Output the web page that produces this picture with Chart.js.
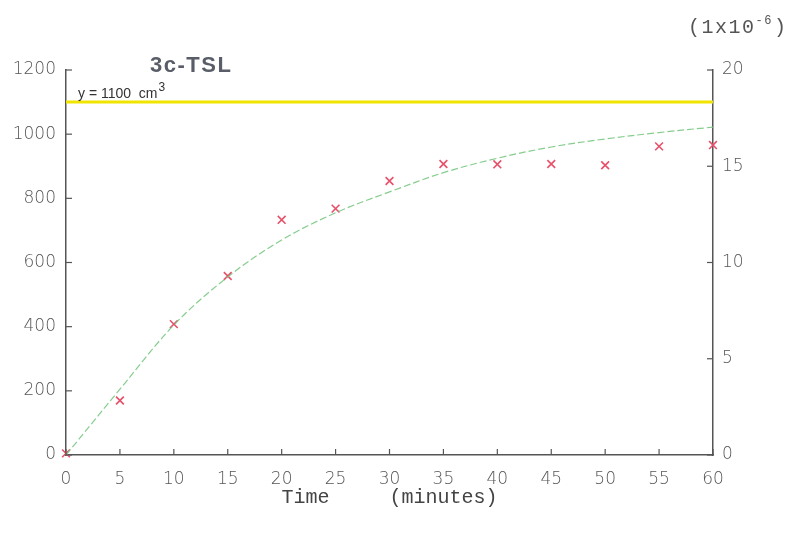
<!DOCTYPE html>
<html><head><meta charset="utf-8">
<script src="https://cdn.jsdelivr.net/npm/chart.js@4"></script>
<style>html,body{margin:0;padding:0;background:#fff}#wrap{width:795px;height:537px}</style>
</head><body><div id="wrap"><canvas id="c" width="795" height="537"></canvas></div>
<script>
// ---- data ----
const timeMinutes    = [0, 5, 10, 15, 20, 25, 30, 35, 40, 45, 50, 55, 60];
const measuredVolume = [5, 170, 408, 558, 733, 768, 854, 907, 906, 907, 903, 962, 966];
const fittedVolume   = [0, 205, 405, 555, 670, 755, 820, 880, 925, 960, 985, 1005, 1022];
const limitVolume    = 1100;
const limitRange     = [0, 60];
const leftTicks      = [0, 200, 400, 600, 800, 1000, 1200];
const rightTicks     = [0, 5, 10, 15, 20];
const xTicks         = [0, 5, 10, 15, 20, 25, 30, 35, 40, 45, 50, 55, 60];
const chartTitle     = '3c-TSL';
const limitLabel     = 'y = 1100  cm';
const xAxisTitle     = 'Time     (minutes)';

const MONO = '"Liberation Mono", "DejaVu Sans Mono", monospace';
const LIGHT = '"DejaVu Sans", sans-serif';
const TXT = '#555';
const AX = '#555';

const toPts = (xs, ys) => xs.map((x, i) => ({x, y: ys[i]}));
const plain = v => String(v);

const innerTicks = {
  id: 'innerTicks',
  afterDraw(chart) {
    const {ctx, chartArea: a, scales} = chart;
    ctx.save();
    ctx.strokeStyle = AX; ctx.lineWidth = 1.2;
    const L = 6;
    scales.x.ticks.forEach((t, i) => {
      const px = scales.x.getPixelForTick(i);
      ctx.beginPath(); ctx.moveTo(px, a.bottom); ctx.lineTo(px, a.bottom - L); ctx.stroke();
    });
    scales.y.ticks.forEach((t, i) => {
      const py = scales.y.getPixelForTick(i);
      ctx.beginPath(); ctx.moveTo(a.left, py); ctx.lineTo(a.left + L, py); ctx.stroke();
    });
    scales.y1.ticks.forEach((t, i) => {
      const py = scales.y1.getPixelForTick(i);
      ctx.beginPath(); ctx.moveTo(a.right, py); ctx.lineTo(a.right - L, py); ctx.stroke();
    });
    // title
    ctx.fillStyle = '#585d68';
    ctx.font = 'bold 22px "Liberation Sans", Arial, sans-serif';
    ctx.letterSpacing = '1.5px';
    ctx.textBaseline = 'alphabetic';
    ctx.textAlign = 'left';
    ctx.fillText(chartTitle, 150, 72);
    ctx.letterSpacing = '0px';
    // limit label
    const ly = scales.y.getPixelForValue(limitVolume) - 4;
    ctx.fillStyle = '#333';
    ctx.font = '14px "Liberation Sans", Arial, sans-serif';
    ctx.fillText(limitLabel, 78, ly);
    const w = ctx.measureText(limitLabel).width;
    ctx.font = '12px "Liberation Sans", Arial, sans-serif';
    ctx.fillText('3', 78 + w + 1, ly - 7);
    // right axis multiplier
    ctx.fillStyle = TXT;
    ctx.letterSpacing = '1.5px';
    ctx.font = '20px ' + MONO;
    ctx.fillText('(1x10', 688, 33);
    let w2 = ctx.measureText('(1x10').width;
    ctx.font = '12px ' + MONO;
    ctx.fillText('-6', 688 + w2, 24);
    let w3 = ctx.measureText('-6').width;
    ctx.font = '20px ' + MONO;
    ctx.fillText(')', 688 + w2 + w3 + 1, 33);
    ctx.restore();
  }
};

const tickFont = {family: LIGHT, size: 17, weight: 200};

new Chart(document.getElementById('c'), {
  type: 'scatter',
  data: {
    datasets: [
      {
        type: 'line',
        data: limitRange.map(x => ({x, y: limitVolume})),
        borderColor: '#f0e400', borderWidth: 3, pointRadius: 0, clip: false
      },
      {
        type: 'line',
        data: toPts(timeMinutes, fittedVolume),
        borderColor: 'rgba(120,200,130,0.9)', borderWidth: 1.2, borderDash: [7, 3],
        pointRadius: 0, tension: 0.35, clip: false
      },
      {
        type: 'scatter',
        data: toPts(timeMinutes, measuredVolume),
        pointStyle: 'crossRot', pointRadius: 5.5, borderColor: '#e8506a',
        borderWidth: 1.6, clip: false
      }
    ]
  },
  options: {
    responsive: false, animation: false,
    layout: {padding: {top: 70, left: 0, right: 0, bottom: 0}},
    plugins: {legend: {display: false}, tooltip: {enabled: false}},
    scales: {
      x: {
        type: 'linear', min: 0, max: 60,
        afterBuildTicks: s => { s.ticks = xTicks.map(v => ({value: v})); },
        afterFit: s => { s.height = 82; },
        ticks: {font: tickFont, color: TXT, padding: 14, callback: plain},
        grid: {drawOnChartArea: false, drawTicks: false},
        border: {color: AX, width: 1.5},
        title: {display: true, text: xAxisTitle, font: {family: MONO, size: 20}, color: '#444', padding: {top: 0, bottom: 27}}
      },
      y: {
        position: 'left', min: 0, max: 1200,
        afterBuildTicks: s => { s.ticks = leftTicks.map(v => ({value: v})); },
        afterFit: s => { s.width = 66; },
        ticks: {font: tickFont, color: TXT, padding: 10, callback: plain},
        grid: {drawOnChartArea: false, drawTicks: false},
        border: {color: AX, width: 1.5}
      },
      y1: {
        position: 'right', min: 0, max: 20,
        afterBuildTicks: s => { s.ticks = rightTicks.map(v => ({value: v})); },
        afterFit: s => { s.width = 82; },
        ticks: {font: tickFont, color: TXT, padding: 9, callback: plain},
        grid: {drawOnChartArea: false, drawTicks: false},
        border: {color: AX, width: 1.5}
      }
    }
  },
  plugins: [innerTicks]
});
</script>
</body></html>
